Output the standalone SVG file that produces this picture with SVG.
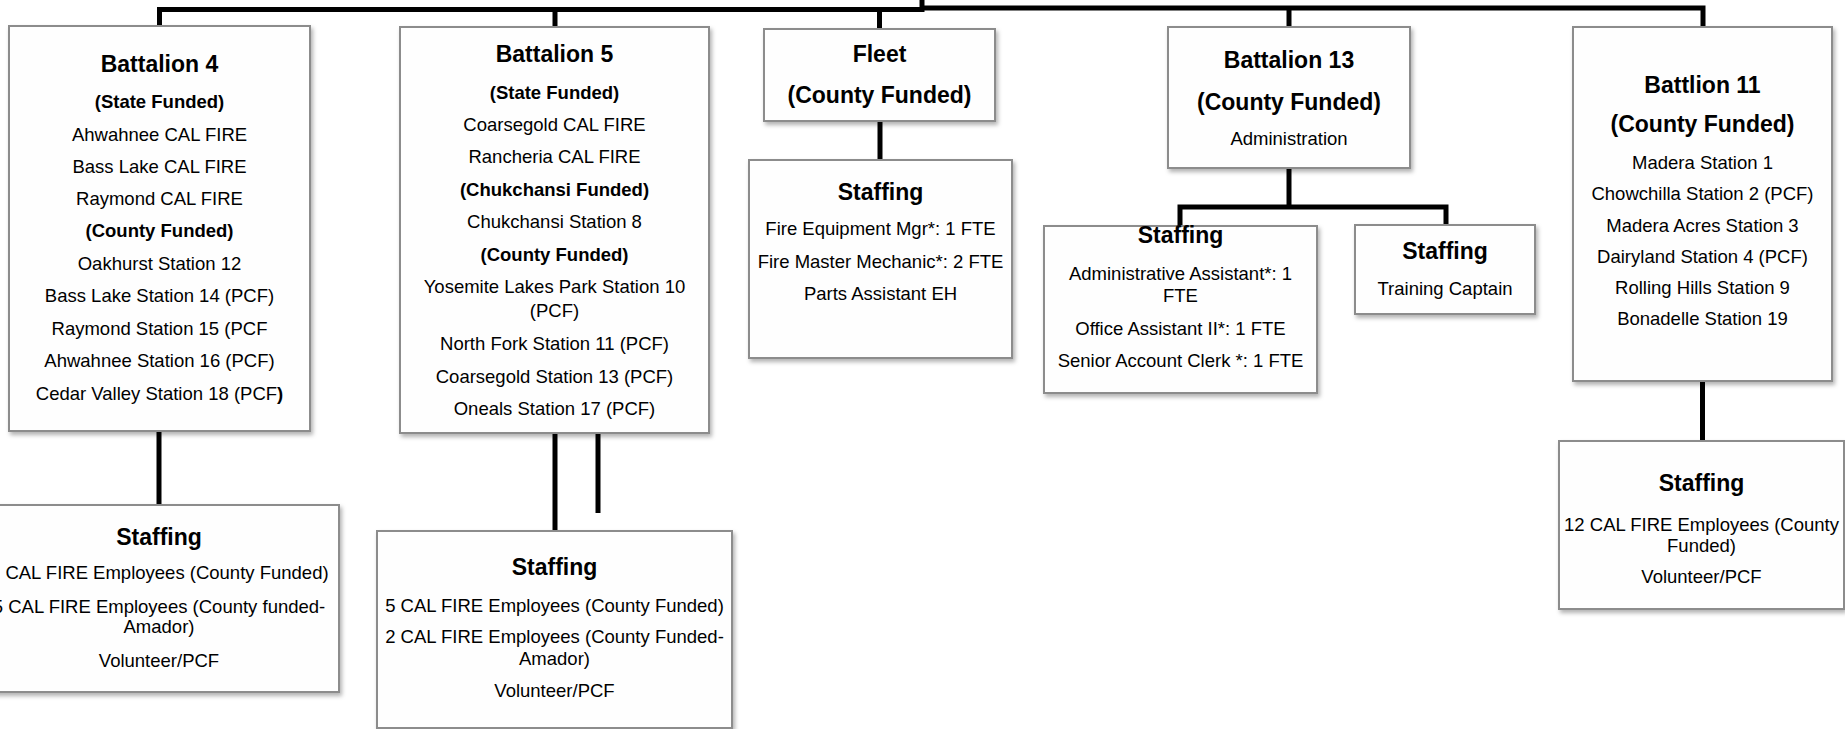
<svg xmlns="http://www.w3.org/2000/svg" width="1845" height="729" viewBox="0 0 1845 729">
<defs>
<filter id="sh" x="-10%" y="-10%" width="125%" height="125%">
<feDropShadow dx="2" dy="3" stdDeviation="2" flood-color="#000" flood-opacity="0.3"/>
</filter>
<style>
.box{fill:#fefefe;stroke:#8c8c8c;stroke-width:2;filter:url(#sh)}
.c{fill:none;stroke:#000;stroke-width:5;stroke-linejoin:miter}
text{font-family:"Liberation Sans",Arial,sans-serif;fill:#000;text-anchor:middle}
.t{font-size:23px;font-weight:bold}
.b{font-size:18.5px;font-weight:bold}
.n{font-size:18.5px}
</style>
</defs>
<rect width="1845" height="729" fill="#fff"/>
<g id="connectors">
<path class="c" d="M159.5,27 V9.5 H922"/>
<path class="c" d="M922,0 V12"/>
<path class="c" d="M920,8 H1703 V28"/>
<path class="c" d="M555,9.5 V28"/>
<path class="c" d="M879.5,9.5 V30"/>
<path class="c" d="M1289,8 V28"/>
<path class="c" d="M880,121 V161"/>
<path class="c" d="M1289,168 V207"/>
<path class="c" d="M1180,228 V207 H1446 V226"/>
<path class="c" d="M1702.5,381 V442"/>
<path class="c" d="M159,431 V506"/>
<path class="c" d="M555,433 V532"/>
<path class="c" d="M598,433 V513"/>
</g>
<g id="battalion4">
<rect class="box" x="9" y="26" width="301" height="405"/>
<text class="t" x="159.5" y="72">Battalion 4</text>
<text class="b" x="159.5" y="108">(State Funded)</text>
<text class="n" x="159.5" y="141">Ahwahnee CAL FIRE</text>
<text class="n" x="159.5" y="173">Bass Lake CAL FIRE</text>
<text class="n" x="159.5" y="205">Raymond CAL FIRE</text>
<text class="b" x="159.5" y="237">(County Funded)</text>
<text class="n" x="159.5" y="270">Oakhurst Station 12</text>
<text class="n" x="159.5" y="302">Bass Lake Station 14 (PCF)</text>
<text class="n" x="159.5" y="335">Raymond Station 15 (PCF</text>
<text class="n" x="159.5" y="367">Ahwahnee Station 16 (PCF)</text>
<text class="n" x="159.5" y="400">Cedar Valley Station 18 (PCF<tspan font-weight="bold">)</tspan></text>
</g>
<g id="battalion5">
<rect class="box" x="400" y="27" width="309" height="406"/>
<text class="t" x="554.5" y="62">Battalion 5</text>
<text class="b" x="554.5" y="99">(State Funded)</text>
<text class="n" x="554.5" y="131">Coarsegold CAL FIRE</text>
<text class="n" x="554.5" y="163">Rancheria CAL FIRE</text>
<text class="b" x="554.5" y="196">(Chukchansi Funded)</text>
<text class="n" x="554.5" y="228">Chukchansi Station 8</text>
<text class="b" x="554.5" y="261">(County Funded)</text>
<text class="n" x="554.5" y="293">Yosemite Lakes Park Station 10</text>
<text class="n" x="554.5" y="317">(PCF)</text>
<text class="n" x="554.5" y="350">North Fork Station 11 (PCF)</text>
<text class="n" x="554.5" y="383">Coarsegold Station 13 (PCF)</text>
<text class="n" x="554.5" y="415">Oneals Station 17 (PCF)</text>
</g>
<g id="fleet">
<rect class="box" x="764" y="29" width="231" height="92"/>
<text class="t" x="879.5" y="62">Fleet</text>
<text class="t" x="879.5" y="103">(County Funded)</text>
</g>
<g id="fleet-staffing">
<rect class="box" x="749" y="160" width="263" height="198"/>
<text class="t" x="880.5" y="200">Staffing</text>
<text class="n" x="880.5" y="235">Fire Equipment Mgr*: 1 FTE</text>
<text class="n" x="880.5" y="268">Fire Master Mechanic*: 2 FTE</text>
<text class="n" x="880.5" y="300">Parts Assistant EH</text>
</g>
<g id="battalion13">
<rect class="box" x="1168" y="27" width="242" height="141"/>
<text class="t" x="1289" y="68">Battalion 13</text>
<text class="t" x="1289" y="110">(County Funded)</text>
<text class="n" x="1289" y="145">Administration</text>
</g>
<g id="b13-staffing-admin">
<rect class="box" x="1044" y="226" width="273" height="167"/>
<text class="t" x="1180.5" y="243">Staffing</text>
<text class="n" x="1180.5" y="280">Administrative Assistant*: 1</text>
<text class="n" x="1180.5" y="302">FTE</text>
<text class="n" x="1180.5" y="335">Office Assistant II*: 1 FTE</text>
<text class="n" x="1180.5" y="367">Senior Account Clerk *: 1 FTE</text>
</g>
<g id="b13-staffing-training">
<rect class="box" x="1355" y="225" width="180" height="89"/>
<text class="t" x="1445" y="259">Staffing</text>
<text class="n" x="1445" y="295">Training Captain</text>
</g>
<g id="battalion11">
<rect class="box" x="1573" y="27" width="259" height="354"/>
<text class="t" x="1702.5" y="93">Battlion 11</text>
<text class="t" x="1702.5" y="132">(County Funded)</text>
<text class="n" x="1702.5" y="169">Madera Station 1</text>
<text class="n" x="1702.5" y="200">Chowchilla Station 2 (PCF)</text>
<text class="n" x="1702.5" y="232">Madera Acres Station 3</text>
<text class="n" x="1702.5" y="263">Dairyland Station 4 (PCF)</text>
<text class="n" x="1702.5" y="294">Rolling Hills Station 9</text>
<text class="n" x="1702.5" y="325">Bonadelle Station 19</text>
</g>
<g id="b11-staffing">
<rect class="box" x="1559" y="441" width="285" height="168"/>
<text class="t" x="1701.5" y="491">Staffing</text>
<text class="n" x="1701.5" y="531">12 CAL FIRE Employees (County</text>
<text class="n" x="1701.5" y="552">Funded)</text>
<text class="n" x="1701.5" y="583">Volunteer/PCF</text>
</g>
<g id="b4-staffing">
<rect class="box" x="-21" y="505" width="360" height="187"/>
<text class="t" x="159" y="545">Staffing</text>
<text class="n" x="167" y="579">CAL FIRE Employees (County Funded)</text>
<text class="n" x="159" y="613">5 CAL FIRE Employees (County funded-</text>
<text class="n" x="159" y="633">Amador)</text>
<text class="n" x="159" y="667">Volunteer/PCF</text>
</g>
<g id="b5-staffing">
<rect class="box" x="377" y="531" width="355" height="197"/>
<text class="t" x="554.5" y="575">Staffing</text>
<text class="n" x="554.5" y="612">5 CAL FIRE Employees (County Funded)</text>
<text class="n" x="554.5" y="643">2 CAL FIRE Employees (County Funded-</text>
<text class="n" x="554.5" y="665">Amador)</text>
<text class="n" x="554.5" y="697">Volunteer/PCF</text>
</g>
</svg>
